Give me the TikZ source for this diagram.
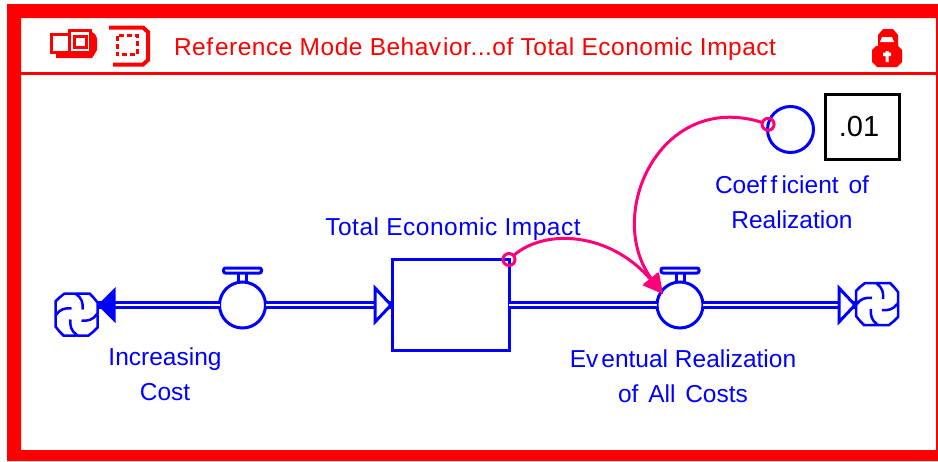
\documentclass[tikz,border=0pt]{standalone}
\usepackage{fontspec}
\setmainfont{Liberation Sans}
\newfontfamily\spacedfont[LetterSpace=2]{Liberation Sans}
\usetikzlibrary{calc,arrows.meta,decorations.markings}
\definecolor{flowblue}{RGB}{0,0,255}
\definecolor{linkpink}{RGB}{255,0,120}
\tikzset{
  label/.style={text=flowblue, align=center, inner sep=0pt, font=\fontsize{24.5}{35}\selectfont},
  stockbox/.style={draw=flowblue, line width=3pt, inner sep=0pt, outer sep=0pt, minimum width=117pt, minimum height=91pt},
  valve/.style={circle, draw=flowblue, line width=3pt, fill=white, inner sep=0pt, outer sep=0pt, minimum size=46pt},
  cloudspot/.style={inner sep=0pt, outer sep=0pt, minimum size=42pt},
  pipe/.style={line width=3pt, double=white, double distance=2.5pt, draw=flowblue},
  tipopen/.style={pipe, postaction={decorate},
    decoration={markings,mark=at position 1 with {\draw[flowblue, line width=3pt, fill=white, line join=miter] (-17pt,-17pt) -- (-17pt,17pt) -- (-1pt,0pt) -- cycle;}}},
  tipfull/.style={pipe, postaction={decorate},
    decoration={markings,mark=at position 1 with {\fill[flowblue] (-18pt,-18pt) -- (-18pt,18pt) -- (0pt,0pt) -- cycle;}}},
  link/.style={draw=linkpink, line width=3pt, shorten >=-3pt, -{Triangle[length=20pt,width=19pt]}},
  linkdot/.style={circle, draw=linkpink, line width=3pt, inner sep=0pt, outer sep=0pt, minimum size=12pt},
  icon/.style={draw=red, line width=3pt}
}
\begin{document}
\begin{tikzpicture}[x=1pt, y=-1pt]
  \useasboundingbox (0,0) rectangle (938,461);
  % frame
  \fill[red, even odd rule] (7,4) rectangle (938,461) (21,18) rectangle (936,450);
  \fill[red] (21,72) rectangle (936,75);
  % title bar
  \node[text=red, inner sep=0pt, font=\spacedfont\fontsize{24.5}{30}\selectfont] (title) at (475,49) {Ref\kern2pt erence Mode Behav\kern2pt ior...of Total Economic Impact};
  \draw[icon] (51.5,34.5) rectangle (69,52.5);
  \draw[icon] (69,30.5) rectangle (90.5,52);
  \draw[icon] (74.5,36) rectangle (86.5,47);
  \fill[red] (92,32) -- (95,34) -- (97,38) -- (97,50) -- (94,55) -- (92,58) -- (56,58) -- (56,54) -- (92,54) -- cycle;
  \draw[icon, line width=4pt] (109,27.5) -- (143,27.5) -- (148,32) -- (148,60) -- (143,64.5) -- (113,64.5);
  \draw[icon, dash pattern=on 5pt off 3pt] (117,35.5) rectangle (137.5,54.5);
  \fill[red] (878,47) -- (878,35) -- (883,29) -- (893,29) -- (898,35) -- (898,47) -- cycle;
  \fill[red] (872,50) -- (876,46) -- (898,46) -- (902,50) -- (902,62) -- (897,67) -- (877,67) -- (872,62) -- cycle;
  \fill[white] (885.5,51) rectangle (888.5,62) (883,52.5) rectangle (891,56) (880,42) -- (882,37) -- (892,37) -- (894,42) -- cycle;
  % stock and valves
  \node[stockbox] (stock) at (450.5,305) {};
  \node[valve] (valveA) at (242.5,305) {};
  \node[valve] (valveB) at (680,305) {};
  \node[cloudspot] (cloudL) at (76.5,314.5) {};
  \node[cloudspot] (cloudR) at (877,304) {};
  \foreach \v in {valveA,valveB} {
    \draw[flowblue, line width=3pt] ($(\v.north)+(-4,0)$) -- ++(0,-9) ($(\v.north)+(4,0)$) -- ++(0,-9);
    \draw[flowblue, line width=3pt, rounded corners=2pt] ($(\v.north)+(-19,-14)$) rectangle ($(\v.north)+(19,-9)$);
  }
  \foreach \c in {cloudL,cloudR} \foreach \a in {0,90,180,270} {
    \draw[flowblue, line width=2.5pt, shift={(\c.center)}, rotate=\a]
      (0,-20) -- (1,-21) -- (13,-21) -- (17,-17) -- (21,-12) -- (21,-1) -- (20,0)
      (0,-20) .. controls (5,-17) and (7,-11) .. (6,-5);
  }
  % pipes
  \draw[tipfull] (valveA.west) -- (valveA.west -| cloudL.east);
  \draw[tipopen] (valveA.east) -- (stock.west);
  \draw[pipe] (stock.east) -- (valveB.west);
  \draw[tipopen] (valveB.east) -- (valveB.east -| cloudR.west);
  % converter and constant
  \node[circle, draw=flowblue, line width=3pt, inner sep=0pt, outer sep=0pt, minimum size=46pt] (coef) at (790.5,129.5) {};
  \node[draw=black, line width=3pt, inner sep=0pt, minimum width=74pt, minimum height=65pt, font=\fontsize{29}{30}\selectfont] (const) at (862,126.5) {.01\kern6pt};
  % links
  \node[linkdot] (dotA) at (stock.north east) {};
  \node[linkdot] (dotB) at (coef.167) {};
  \draw[link] (dotA) .. controls (545,228) and (610,232) .. (valveB.145);
  \draw[link] (dotB) .. controls (660,90) and (604,215) .. (valveB.145);
  % labels
  \node[label, font=\spacedfont\fontsize{24.5}{35}\selectfont] (lbStock) at (453,229) {Total Economic Impact};
  \node[label] (lbInc) at (165,374.5) {Increasing\\Cost};
  \node[label] (lbEvt) at (683,376.5) {Ev\kern3pt entual Realization\\of\kern3pt\ All\kern3pt\ Costs};
  \node[label] (lbCoef) at (792,202.5) {Coef\kern4pt f\kern4pt icient\kern3pt\ of\\Realization};
\end{tikzpicture}
\end{document}
